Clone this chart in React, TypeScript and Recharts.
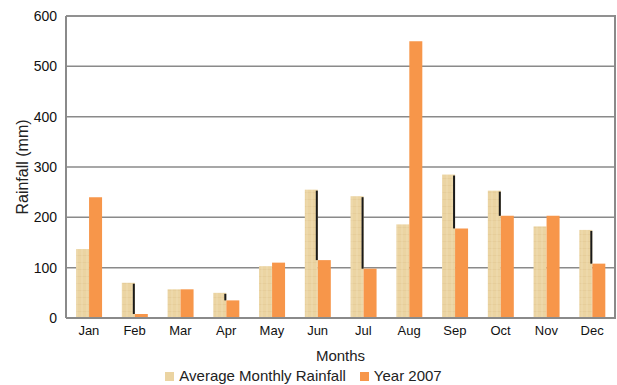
import React from "react";
import {
  BarChart,
  Bar,
  XAxis,
  YAxis,
  CartesianGrid,
  Legend,
  ReferenceLine,
} from "recharts";

const months = ["Jan", "Feb", "Mar", "Apr", "May", "Jun", "Jul", "Aug", "Sep", "Oct", "Nov", "Dec"];
const averageRainfall = [137, 70, 57, 50, 103, 255, 242, 186, 285, 253, 182, 175];
const rainfall2007 = [240, 8, 57, 35, 110, 115, 98, 550, 178, 203, 203, 108];
const yTicks = [0, 100, 200, 300, 400, 500, 600];

const data = months.map((month, i) => ({
  month,
  avg: averageRainfall[i],
  y2007: rainfall2007[i],
}));

const TAN = "#EBD4A2";
const ORANGE = "#F7964A";
const GRID = "#8a8a8a";
const FONT = "'Liberation Sans', Arial, sans-serif";

// tan bar with a dark edge down to the 2007 bar when it is shorter
function AvgShape(props: any) {
  const { x, y, width, height, payload } = props;
  const bottom = y + height;
  const other = payload.y2007;
  const otherY = payload.avg > 0 ? bottom - (height * other) / payload.avg : bottom;
  return (
    <g>
      <rect x={x} y={y} width={width} height={height} fill="url(#tanTexture)" />
      {other < payload.avg && (
        <rect x={x + width - 2} y={y + 1} width={2} height={otherY - y - 1} fill="#1a1a1a" />
      )}
    </g>
  );
}

function LegendContent({ payload }: any) {
  return (
    <div style={{ display: "flex", justifyContent: "center", gap: 14, fontSize: 15, lineHeight: "16px", color: "#222", paddingRight: 8 }}>
      {(payload || []).map((item: any) => (
        <span key={item.value} style={{ display: "flex", alignItems: "center" }}>
          <span style={{ width: 9, height: 9, background: item.color, marginRight: 5, display: "inline-block" }} />
          {item.value}
        </span>
      ))}
    </div>
  );
}

export default function App() {
  return (
    <div style={{ position: "absolute", left: 0, top: 0, width: 617, height: 385, background: "#fff", fontFamily: FONT }}>
      <BarChart
        width={617}
        height={385}
        data={data}
        margin={{ top: 16, right: 2, left: 0, bottom: 0 }}
        barGap={0}
        barCategoryGap="22%"
      >
        <defs>
          <pattern id="tanTexture" width="5" height="7" patternUnits="userSpaceOnUse">
            <rect width="5" height="7" fill={TAN} />
            <path d="M0 3.5 H5" stroke="#E0C792" strokeWidth="0.5" />
            <path d="M2 0 V7" stroke="#F1E0BA" strokeWidth="0.6" />
          </pattern>
        </defs>
        <CartesianGrid vertical={false} stroke={GRID} strokeWidth={1.5} />
        <ReferenceLine y={600} stroke={GRID} strokeWidth={1.5} />
        <XAxis
          dataKey="month"
          tickLine={false}
          axisLine={{ stroke: GRID, strokeWidth: 2 }}
          tick={{ fill: "#111", fontSize: 13, fontFamily: FONT }}
          height={50}
          label={{ value: "Months", position: "insideBottom", offset: 7, fill: "#222", fontSize: 15, fontFamily: FONT }}
        />
        <YAxis
          domain={[0, 600]}
          ticks={yTicks}
          tickLine={false}
          axisLine={{ stroke: GRID, strokeWidth: 2 }}
          tick={{ fill: "#111", fontSize: 14, fontFamily: FONT }}
          tickMargin={3}
          width={66}
          label={{ value: "Rainfall (mm)", angle: -90, position: "insideLeft", offset: 22, fill: "#222", fontSize: 16, fontFamily: FONT, style: { textAnchor: "middle" } }}
        />
        <Legend verticalAlign="bottom" height={17} content={<LegendContent />} />
        <Bar dataKey="avg" name="Average Monthly Rainfall" fill={TAN} shape={<AvgShape />} isAnimationActive={false} />
        <Bar dataKey="y2007" name="Year 2007" fill={ORANGE} isAnimationActive={false} />
      </BarChart>
      {/* right border of plot box */}
      <div style={{ position: "absolute", left: 614, top: 15, width: 2, height: 304, background: GRID }} />
    </div>
  );
}
